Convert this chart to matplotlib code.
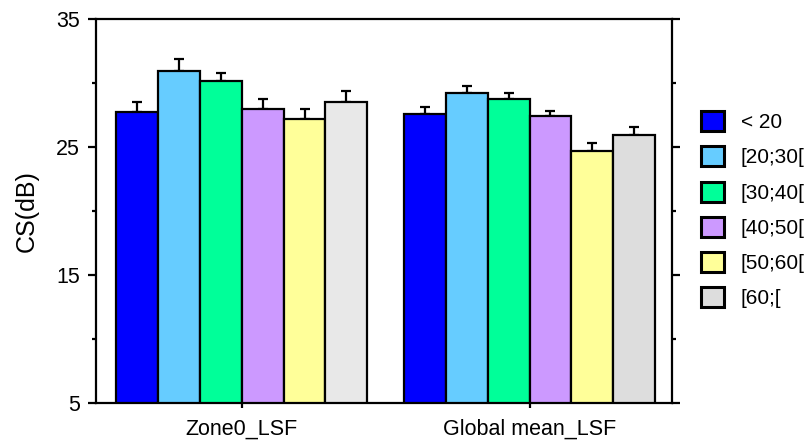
import matplotlib
matplotlib.use("Agg")
import matplotlib.pyplot as plt
from matplotlib.patches import Patch
from matplotlib.ticker import MultipleLocator
import numpy as np

plt.rcParams["font.family"] = ["Liberation Sans", "DejaVu Sans"]

# Mean CS (dB) per age class, with upper error bars.
groups = ["Zone0_LSF", "Global mean_LSF"]
age_classes = ["< 20", "[20;30[", "[30;40[", "[40;50[", "[50;60[", "[60;["]
means = [
    [27.7, 30.95, 30.15, 27.95, 27.2, 28.5],   # Zone0_LSF
    [27.55, 29.25, 28.75, 27.4, 24.7, 25.95],  # Global mean_LSF
]
errors = [
    [0.8, 0.9, 0.6, 0.8, 0.8, 0.9],
    [0.6, 0.5, 0.5, 0.45, 0.6, 0.6],
]
colors = ["#0000FF", "#66CCFF", "#00FF99", "#CC99FF", "#FFFF99", "#DDDDDD"]
last_fill = ["#E8E8E8", "#DDDDDD"]

fig = plt.figure(figsize=(8.08, 4.41), dpi=100)
ax = fig.add_axes([95.7/808, 1-403/441, (672.3-95.7)/808, (403-19)/441])

x = np.arange(len(groups))
w = 0.1456
n = len(age_classes)
for i in range(n):
    pos = x + (i - (n-1)/2)*w
    vals = [m[i] for m in means]
    errs = [e[i] for e in errors]
    fill = [colors[i]]*len(groups) if i < n-1 else last_fill
    ax.bar(pos, vals, w, bottom=0, color=fill, edgecolor="black", linewidth=1.6, zorder=2)
    ax.errorbar(pos, vals, yerr=[np.zeros(len(errs)), errs], fmt="none",
                ecolor="black", elinewidth=1.6, capsize=3.6, capthick=1.6, zorder=1)

ax.set_xlim(-0.507, 1.496)
ax.set_ylim(5, 35)
ax.set_yticks([5, 15, 25, 35])
ax.yaxis.set_minor_locator(MultipleLocator(5))
ax.set_xticks(x, groups)

for s in ax.spines.values():
    s.set_linewidth(1.6)

ax.tick_params(axis="y", which="both", direction="out", right=True, width=1.6,
               labelsize=15.5, pad=5.5)
ax.tick_params(axis="y", which="major", length=6)
ax.tick_params(axis="y", which="minor", length=3)
ax.tick_params(axis="x", direction="out", length=3.5, width=1.6, labelsize=15.5, pad=8)

ax.set_ylabel("CS(dB)", fontsize=18, labelpad=12)

handles = [Patch(facecolor=c, edgecolor="black", linewidth=2.2, label=l)
           for c, l in zip(colors, age_classes)]
fig.legend(handles=handles, loc="upper left", bbox_to_anchor=(701/808, 1-111/441),
           frameon=False, fontsize=15, handlelength=1.1, handleheight=1.1,
           handletextpad=0.8, labelspacing=0.68, borderpad=0, borderaxespad=0)

fig.savefig("out.png", dpi=100)
